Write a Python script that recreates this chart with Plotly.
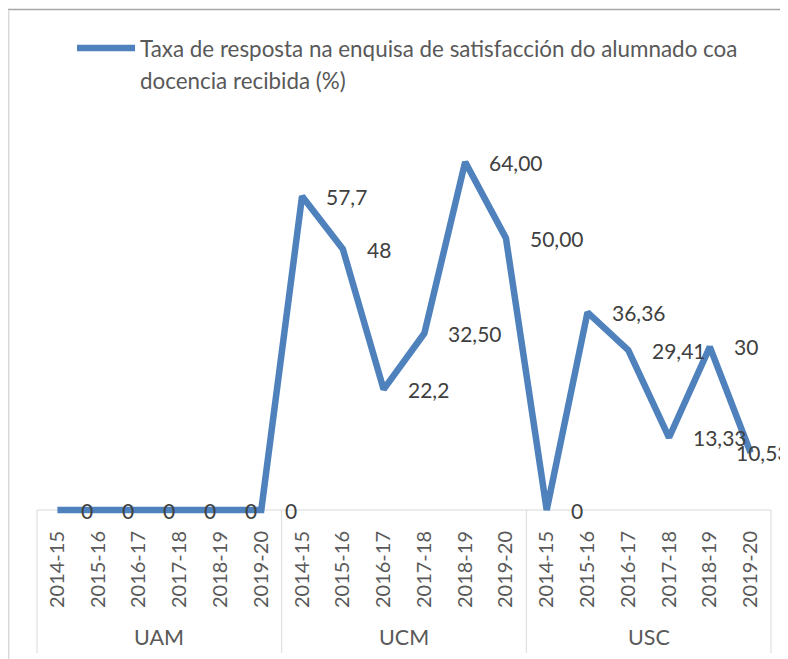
import plotly.graph_objects as go

# ---------------- data ----------------
universities = ["UAM", "UCM", "USC"]
years = ["2014-15", "2015-16", "2016-17", "2017-18", "2018-19", "2019-20"]
uam_values = [0, 0, 0, 0, 0, 0]
ucm_values = [57.7, 48, 22.2, 32.5, 64.0, 50.0]
usc_values = [0, 36.36, 29.41, 13.33, 30, 10.53]
uam_labels = ["0", "0", "0", "0", "0", "0"]
ucm_labels = ["57,7", "48", "22,2", "32,50", "64,00", "50,00"]
usc_labels = ["0", "36,36", "29,41", "13,33", "30", "10,53"]
legend_line1 = "Taxa de resposta na enquisa de satisfacción do alumnado coa"
legend_line2 = "docencia recibida (%)"

values = uam_values + ucm_values + usc_values
value_labels = uam_labels + ucm_labels + usc_labels
tick_text = years * len(universities)
x_idx = list(range(len(values)))
n = len(values)

# ---------------- geometry (screen px; page body has an 8px margin) ----------------
OFF = 8
SW, SH = 788, 659
W, H = SW - OFF, SH - OFF
PL, PR = 37, 771          # plot area left/right (screen px)
PT, PB = 129, 521         # plot area top/bottom (screen px)
ZERO_PX = 510             # screen row of value 0
K = (510 - 162) / 64.0    # px per unit
y_min = -(PB - ZERO_PX) / K
y_max = (ZERO_PX - PT) / K

def px_x(p):
    return (p - PL) / (PR - PL)

def px_y(p):
    return (PB - p) / (PB - PT)

FONT = "Lato"
GRAY = "#595959"
DARK = "#404040"
LINE = "#d9d9d9"
BLUE = "#4f81bd"

fig = go.Figure()
legend_name = ("<span style='font-size:22.4px'>" + legend_line1 + "</span>"
               "<br><span style='font-size:22.4px'>" + legend_line2 + "</span>")
fig.add_trace(go.Scatter(
    x=x_idx, y=values, mode="lines",
    line=dict(color=BLUE, width=6.5),
    name=legend_name, showlegend=True, hoverinfo="skip",
))

annotations = []
for i, (v, lab) in enumerate(zip(values, value_labels)):
    xs = 22
    if i == n - 1:
        xs = -17
    annotations.append(dict(
        x=i, y=v, xref="x", yref="y", text=lab, showarrow=False,
        xanchor="left", yanchor="middle", xshift=xs,
        font=dict(family=FONT, size=21, color=DARK),
    ))

group_size = len(years)
for g, uni in enumerate(universities):
    cx = (g * group_size + group_size / 2) / n
    annotations.append(dict(
        x=cx, y=px_y(637), xref="paper", yref="paper", text=uni,
        showarrow=False, xanchor="center", yanchor="middle",
        font=dict(family=FONT, size=21.5, color=GRAY),
    ))

shapes = []
# category axis line
shapes.append(dict(type="line", xref="x", yref="y", x0=-0.5, x1=n - 0.5, y0=0, y1=0,
                   line=dict(color=LINE, width=1), layer="below"))
# group dividers
for g in range(len(universities) + 1):
    xp = (g * group_size) / n
    shapes.append(dict(type="line", xref="paper", yref="paper", x0=xp, x1=xp,
                       y0=px_y(ZERO_PX), y1=px_y(653), line=dict(color=LINE, width=1)))
# chart border fragments
shapes.append(dict(type="line", xref="paper", yref="paper", x0=px_x(OFF), x1=px_x(SW),
                   y0=px_y(9.5), y1=px_y(9.5), line=dict(color="#a6a6a6", width=1.5)))
shapes.append(dict(type="line", xref="paper", yref="paper", x0=px_x(8.7), x1=px_x(8.7),
                   y0=px_y(10.5), y1=px_y(SH), line=dict(color=LINE, width=1.5)))

fig.update_layout(
    width=W, height=H,
    margin=dict(l=PL - OFF, r=SW - PR, t=PT - OFF, b=SH - PB, pad=0),
    paper_bgcolor="white", plot_bgcolor="white",
    font=dict(family=FONT, size=20, color=GRAY),
    showlegend=True,
    legend=dict(x=px_x(72), y=px_y(26), xanchor="left", yanchor="top",
                font=dict(family=FONT, size=24, color=GRAY),
                itemwidth=58, valign="top", bgcolor="rgba(0,0,0,0)",
                borderwidth=0, tracegroupgap=0),
    xaxis=dict(range=[-0.5, n - 0.5], tickmode="array", tickvals=x_idx, ticktext=tick_text,
               tickangle=-90, tickfont=dict(family=FONT, size=20, color=GRAY),
               showline=False, showgrid=False, zeroline=False, ticks="",
               ticklabelstandoff=5, fixedrange=True),
    yaxis=dict(range=[y_min, y_max], visible=False, fixedrange=True),
    annotations=annotations,
    shapes=shapes,
)

fig.write_html("out.html")
